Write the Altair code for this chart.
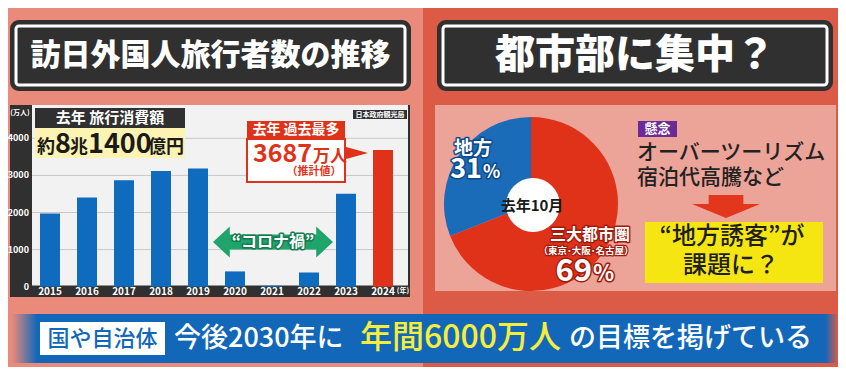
import altair as alt
import pandas as pd

# ---------------- data ----------------
years = ["2015", "2016", "2017", "2018", "2019", "2020", "2021", "2022", "2023", "2024"]
visitors = [1974, 2404, 2869, 3119, 3188, 412, 25, 383, 2507, 3687]
tick_values = [0, 1000, 2000, 3000, 4000]
regions = ["三大都市圏", "地方"]
shares = [69, 31]

bars_df = pd.DataFrame({"year": years, "visitors": visitors})
ticks_df = pd.DataFrame({"tick": tick_values})
pie_df = pd.DataFrame({"region": regions, "share": shares, "idx": [0, 1]})

# ---------------- style ----------------
JP = "Noto Sans CJK JP"
OX = OY = 8
DUMMY = pd.DataFrame({"d": [0]})
BG_L = "#ea8a7b"
BG_R = "#db5b47"
BAR_BLUE = "#0f6bbd"
RED = "#df3219"
PIE_BLUE = "#1a6bb8"
DARK = "#303030"


def R(x0, y0, x1, y1, **kw):
    return alt.Chart(DUMMY).mark_rect(**kw).encode(
        x=alt.value(x0 - OX), x2=alt.value(x1 - OX),
        y=alt.value(y0 - OY), y2=alt.value(y1 - OY))


def T(x, y, s, size, color, align="center", baseline="middle", weight="bold", **kw):
    return alt.Chart(DUMMY).mark_text(
        text=s, fontSize=size, color=color, align=align, baseline=baseline,
        font=JP, fontWeight=weight, **kw).encode(x=alt.value(x - OX), y=alt.value(y - OY))


def OT(x, y, s, size, color, outline, sw, **kw):
    under = T(x, y, s, size, outline, stroke=outline, strokeWidth=sw, strokeJoin="round", **kw)
    over = T(x, y, s, size, color, **kw)
    return [under, over]


def SHAPE(cx, cy, path, size, color):
    return alt.Chart(DUMMY).mark_point(
        shape=path, size=size, filled=True, color=color, opacity=1, strokeWidth=0
    ).encode(x=alt.value(cx - OX), y=alt.value(cy - OY))


XS = alt.Scale(domain=years, range=[31.5 - OX, 401.5 - OX], paddingInner=0.46, paddingOuter=0.23)
YS = alt.Scale(domain=[0, 4000], range=[286.7 - OY, 138.3 - OY], nice=False, zero=True)

layers = []

# background halves
layers.append(R(8, 8, 423, 367, color=BG_L))
layers.append(R(423, 8, 838, 367, color=BG_R))

# title boxes
for (x0, x1, txt, fs) in [(10, 411, "訪日外国人旅行者数の推移", 30), (437, 833, "都市部に集中？", 40)]:
    layers.append(R(x0, 20, x1, 91, color=DARK, cornerRadius=9))
    layers.append(R(x0 + 6, 26, x1 - 6, 85, fillOpacity=0, stroke="white", strokeWidth=3, cornerRadius=3))
    layers.append(T((x0 + x1) / 2, 56, txt, fs, "white", weight=900))

# ---------------- left panel: bar chart ----------------
layers.append(R(10, 105, 410, 297, color=DARK))
layers.append(R(32, 105, 408, 285.5, color="#f2f2f2"))

layers.append(
    alt.Chart(ticks_df).transform_filter("datum.tick > 0").mark_rule(color="#c8c8c8", strokeWidth=1)
    .encode(y=alt.Y("tick:Q", scale=YS, axis=None), x=alt.value(32 - OX), x2=alt.value(408 - OX))
)
layers.append(
    alt.Chart(bars_df).mark_bar().encode(
        x=alt.X("year:O", scale=XS, axis=None),
        y=alt.Y("visitors:Q", scale=YS, axis=None),
        color=alt.condition("datum.year == '2024'", alt.value(RED), alt.value(BAR_BLUE)),
    )
)
layers.append(
    alt.Chart(ticks_df).mark_text(align="right", baseline="middle", fontSize=9, color="white",
                                  font=JP, fontWeight="bold")
    .encode(y=alt.Y("tick:Q", scale=YS, axis=None), x=alt.value(29 - OX),
            text=alt.Text("tick:Q", format="d"))
)
layers.append(
    alt.Chart(bars_df).mark_text(baseline="middle", fontSize=10, color="white", font=JP, fontWeight="bold")
    .encode(x=alt.X("year:O", scale=XS, axis=None), y=alt.value(292 - OY), text="year:N")
)
layers.append(T(20, 113, "(万人)", 7, "white"))
layers.append(T(403, 291, "(年)", 7, "white"))

# consumption boxes
layers.append(R(35, 108, 185, 128, color=DARK))
layers.append(T(110, 118, "去年 旅行消費額", 15, "white"))
layers.append(R(35, 128, 185, 158, color="#fdf3b2"))
for (x, s, fs) in [(37, "約", 18), (55, "8", 27), (70, "兆", 18), (88, "1400", 27), (148, "億円", 18)]:
    layers.append(T(x, 153, s, fs, "#1a1a1a", align="left", baseline="alphabetic"))

# source label
layers.append(R(353, 110, 407, 119, color=DARK))
layers.append(T(380, 114.5, "日本政府観光局", 7, "white"))

# record callout
layers.append(R(247, 121, 345, 139, color=RED))
layers.append(T(296, 130, "去年 過去最多", 14, "white"))
layers.append(R(247, 139, 345, 182, color="white", stroke=RED, strokeWidth=2))
layers.append(SHAPE(357, 153, "M-1,-0.55 L1,0 L-1,0.55 Z", 22 * 22, RED))
layers.append(T(312, 162, "3687", 25, RED, align="right", baseline="alphabetic"))
layers.append(T(313, 162, "万人", 17, RED, align="left", baseline="alphabetic"))
layers.append(T(314, 172, "（推計値）", 11, RED))

# corona arrow
layers.append(SHAPE(273, 242,
                    "M-1,0 L-0.72,-0.26 L-0.72,-0.125 L0.72,-0.125 L0.72,-0.26 L1,0 "
                    "L0.72,0.26 L0.72,0.125 L-0.72,0.125 L-0.72,0.26 Z",
                    120 * 120, "#1fa46c"))
layers += OT(273, 242, "“コロナ禍”", 16, "white", "#157a4f", 3)

# ---------------- right panel: pie ----------------
layers.append(R(435, 105, 836, 291, color="#eca398"))
layers.append(
    alt.Chart(pie_df).mark_arc(radius=87).encode(
        theta=alt.Theta("share:Q", stack=True),
        color=alt.Color("region:N", scale=alt.Scale(domain=regions, range=[RED, PIE_BLUE]), legend=None),
        order=alt.Order("idx:Q"),
        x=alt.value(531 - OX), y=alt.value(204 - OY),
    )
)
layers.append(alt.Chart(DUMMY).mark_circle(size=2900, color="white", opacity=1)
              .encode(x=alt.value(533 - OX), y=alt.value(205 - OY)))
layers.append(T(532, 206, "去年10月", 15, "#1a1a1a"))
layers += OT(473, 149, "地方", 19, "white", "#0d4a8a", 3)
layers += OT(482, 178, "31", 27, "white", "#0d4a8a", 3, align="right", baseline="alphabetic")
layers += OT(483, 178, "%", 18, "white", "#0d4a8a", 3, align="left", baseline="alphabetic")
layers += OT(590, 235, "三大都市圏", 16, "white", "#a31a0b", 3)
layers += OT(586, 251, "（東京･大阪･名古屋）", 9.5, "white", "#a31a0b", 2.5)
layers += OT(592, 281, "69", 31, "white", "#a31a0b", 3, align="right", baseline="alphabetic")
layers += OT(593, 281, "%", 22, "white", "#a31a0b", 3, align="left", baseline="alphabetic")

# concern text
layers.append(R(638, 121, 677, 137, color="#6b2b97"))
layers.append(T(657.5, 129, "懸念", 13, "white"))
layers.append(T(637, 153, "オーバーツーリズム", 21, "#222222", align="left", weight=500))
layers.append(T(637, 178, "宿泊代高騰など", 21, "#222222", align="left", weight=500))
layers.append(SHAPE(726, 206,
                    "M-0.51,-0.32 L0.51,-0.32 L0.51,-0.06 L1,-0.06 L0,0.35 L-1,-0.06 L-0.51,-0.06 Z",
                    68 * 68, "#e2361d"))
layers.append(R(645, 222, 823, 283, color="#f5e612"))
layers.append(T(732, 237, "“地方誘客”が", 24, "#1e1e1e", weight=500))
layers.append(T(731, 266, "課題に？", 24, "#1e1e1e", weight=500))

# ---------------- bottom banner ----------------
banner_fill = alt.LinearGradient(
    gradient="linear",
    stops=[alt.GradientStop(color=BG_L, offset=0),
           alt.GradientStop(color="#1367b9", offset=0.03),
           alt.GradientStop(color="#1367b9", offset=0.985),
           alt.GradientStop(color=BG_R, offset=1)],
    x1=0, x2=1, y1=0, y2=0)
layers.append(R(12, 314, 838, 363, color=banner_fill))
layers.append(R(40, 322, 165, 355, color="white"))
layers.append(T(102.5, 339, "国や自治体", 22, "#1367b9", weight=500))
layers.append(T(174, 339, "今後2030年に", 27, "white", align="left", weight=500))
layers.append(T(360, 338, "年間6000万人", 32, "#f6ee3a", align="left", weight=500))
layers.append(T(569, 339, "の目標を掲げている", 27, "white", align="left", weight=500))

chart = alt.layer(*layers).properties(
    width=830, height=359,
    autosize=alt.AutoSizeParams(type="none"),
    padding=0, background=BG_L,
).configure_view(stroke=None)

chart.save("out.html", embed_options={"renderer": "svg", "actions": False})
